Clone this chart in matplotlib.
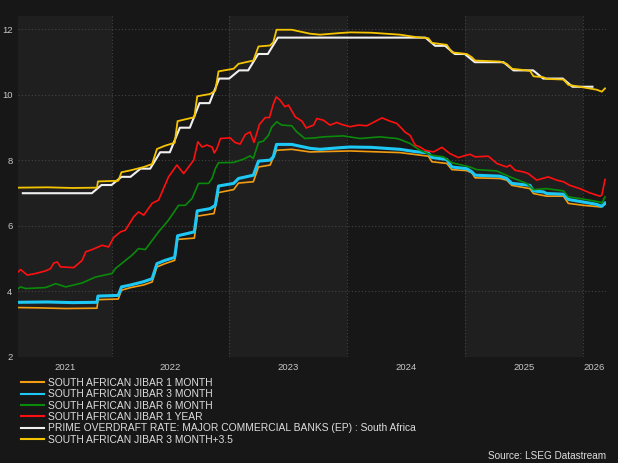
import pandas as pd
import matplotlib
matplotlib.use("Agg")
import matplotlib.pyplot as plt

plt.rcParams['font.family'] = ['Liberation Sans', 'DejaVu Sans']

# JIBAR 1 month (orange)
jibar1m_dates = ['2021-03-17', '2021-05-20', '2021-08-10', '2021-11-16', '2021-11-19',
                 '2022-01-21', '2022-01-31', '2022-03-01', '2022-04-10', '2022-05-06',
                 '2022-05-21', '2022-06-15', '2022-07-15', '2022-07-24', '2022-09-14',
                 '2022-09-23', '2022-11-14', '2022-11-28', '2023-01-14', '2023-01-29',
                 '2023-03-16', '2023-04-01', '2023-05-07', '2023-05-27', '2023-07-13',
                 '2023-09-08', '2024-01-10', '2024-06-13', '2024-09-09', '2024-09-20',
                 '2024-11-05', '2024-11-21', '2025-01-06', '2025-01-22', '2025-02-01',
                 '2025-04-19', '2025-05-10', '2025-05-26', '2025-07-21', '2025-08-01',
                 '2025-09-11', '2025-11-02', '2025-11-17', '2026-01-03', '2026-02-26',
                 '2026-03-11']
jibar1m = [3.51, 3.50, 3.48, 3.49, 3.75,
           3.77, 4.04, 4.12, 4.20, 4.29,
           4.75, 4.85, 4.95, 5.59, 5.63,
           6.30, 6.38, 7.02, 7.11, 7.31,
           7.35, 7.80, 7.86, 8.31, 8.34,
           8.26, 8.29, 8.24, 8.13, 7.96,
           7.91, 7.72, 7.69, 7.62, 7.47,
           7.45, 7.40, 7.24, 7.14, 6.99,
           6.91, 6.91, 6.69, 6.63, 6.58,
           6.66]

# JIBAR 3 month (cyan) and JIBAR 3 month + 3.5 (yellow), same dates
jibar3m_dates = ['2021-03-17', '2021-06-15', '2021-09-01', '2021-11-16', '2021-11-19',
                 '2022-01-21', '2022-01-31', '2022-03-01', '2022-04-10', '2022-05-06',
                 '2022-05-21', '2022-06-15', '2022-07-15', '2022-07-24', '2022-09-14',
                 '2022-09-23', '2022-11-02', '2022-11-18', '2022-11-28', '2023-01-14',
                 '2023-01-29', '2023-03-16', '2023-04-01', '2023-05-07', '2023-05-17',
                 '2023-05-27', '2023-07-13', '2023-09-08', '2023-10-09', '2023-12-10',
                 '2024-01-10', '2024-03-15', '2024-06-13', '2024-07-30', '2024-09-09',
                 '2024-09-20', '2024-11-05', '2024-11-21', '2025-01-06', '2025-01-22',
                 '2025-02-01', '2025-04-19', '2025-05-10', '2025-05-26', '2025-07-21',
                 '2025-08-01', '2025-09-01', '2025-09-11', '2025-11-02', '2025-11-17',
                 '2026-01-03', '2026-02-13', '2026-03-01', '2026-03-11']
jibar3m = [3.67, 3.68, 3.66, 3.67, 3.86,
           3.88, 4.14, 4.20, 4.30, 4.39,
           4.85, 4.95, 5.04, 5.70, 5.82,
           6.46, 6.53, 6.63, 7.22, 7.30,
           7.45, 7.55, 7.98, 8.01, 8.11,
           8.49, 8.49, 8.37, 8.34, 8.39,
           8.41, 8.40, 8.34, 8.27, 8.23,
           8.09, 8.03, 7.80, 7.75, 7.65,
           7.55, 7.52, 7.45, 7.30, 7.24,
           7.07, 7.04, 6.99, 6.97, 6.81,
           6.73, 6.66, 6.60, 6.70]
jibar3m_plus = [7.17, 7.18, 7.16, 7.17, 7.36,
                7.38, 7.64, 7.70, 7.80, 7.89,
                8.35, 8.45, 8.54, 9.20, 9.32,
                9.96, 10.03, 10.13, 10.72, 10.80,
                10.95, 11.05, 11.48, 11.51, 11.61,
                11.99, 11.99, 11.87, 11.84, 11.89,
                11.91, 11.90, 11.84, 11.77, 11.73,
                11.59, 11.53, 11.30, 11.25, 11.15,
                11.05, 11.02, 10.95, 10.80, 10.74,
                10.57, 10.54, 10.49, 10.47, 10.31,
                10.23, 10.16, 10.10, 10.20]

# JIBAR 6 month (green)
jibar6m_dates = ['2021-03-17', '2021-03-24', '2021-04-09', '2021-06-10', '2021-07-11',
                 '2021-08-11', '2021-10-01', '2021-11-11', '2022-01-02', '2022-01-12',
                 '2022-03-05', '2022-03-25', '2022-04-15', '2022-05-26', '2022-06-26',
                 '2022-07-27', '2022-08-17', '2022-09-07', '2022-09-27', '2022-10-28',
                 '2022-11-08', '2022-11-18', '2022-11-28', '2023-01-14', '2023-02-14',
                 '2023-03-06', '2023-03-16', '2023-04-01', '2023-04-16', '2023-05-02',
                 '2023-05-12', '2023-05-28', '2023-06-12', '2023-07-13', '2023-07-29',
                 '2023-08-23', '2023-09-23', '2023-10-19', '2023-12-20', '2024-02-10',
                 '2024-04-12', '2024-06-03', '2024-06-13', '2024-07-14', '2024-08-14',
                 '2024-09-20', '2024-10-26', '2024-11-21', '2025-01-16', '2025-02-06',
                 '2025-04-09', '2025-05-20', '2025-07-11', '2025-08-01', '2025-09-11',
                 '2025-11-02', '2025-11-17', '2026-01-03', '2026-02-23', '2026-03-01',
                 '2026-03-11']
jibar6m = [4.09, 4.14, 4.09, 4.12, 4.24,
           4.14, 4.26, 4.44, 4.55, 4.70,
           5.11, 5.31, 5.28, 5.82, 6.18,
           6.63, 6.63, 6.84, 7.30, 7.30,
           7.45, 7.75, 7.93, 7.94, 8.04,
           8.14, 8.06, 8.55, 8.59, 8.77,
           9.02, 9.18, 9.08, 9.06, 8.87,
           8.67, 8.69, 8.72, 8.75, 8.67,
           8.72, 8.67, 8.64, 8.52, 8.31,
           8.16, 8.11, 7.93, 7.80, 7.72,
           7.68, 7.50, 7.30, 7.11, 7.14,
           7.07, 6.89, 6.82, 6.73, 6.70,
           6.89]

# JIBAR 1 year (red)
jibar1y_dates = ['2021-03-17', '2021-03-24', '2021-04-14', '2021-05-10', '2021-06-10',
                 '2021-06-25', '2021-07-05', '2021-07-16', '2021-07-26', '2021-09-05',
                 '2021-10-01', '2021-10-12', '2021-11-01', '2021-12-02', '2021-12-22',
                 '2022-01-07', '2022-01-28', '2022-02-12', '2022-03-10', '2022-03-25',
                 '2022-04-10', '2022-05-06', '2022-05-26', '2022-06-26', '2022-07-22',
                 '2022-08-12', '2022-09-12', '2022-09-25', '2022-10-08', '2022-10-23',
                 '2022-11-08', '2022-11-15', '2022-11-23', '2022-12-04', '2023-01-03',
                 '2023-01-18', '2023-02-03', '2023-02-19', '2023-03-06', '2023-03-18',
                 '2023-04-04', '2023-04-22', '2023-05-05', '2023-05-16', '2023-05-26',
                 '2023-06-07', '2023-06-22', '2023-07-03', '2023-07-24', '2023-08-14',
                 '2023-08-27', '2023-09-19', '2023-09-29', '2023-10-19', '2023-11-09',
                 '2023-11-30', '2023-12-15', '2024-01-10', '2024-02-05', '2024-03-02',
                 '2024-03-22', '2024-04-18', '2024-05-13', '2024-06-03', '2024-06-18',
                 '2024-06-28', '2024-07-14', '2024-07-30', '2024-08-14', '2024-08-30',
                 '2024-09-25', '2024-10-21', '2024-11-15', '2024-12-11', '2025-01-16',
                 '2025-02-01', '2025-03-14', '2025-04-09', '2025-05-10', '2025-05-20',
                 '2025-06-05', '2025-07-01', '2025-07-16', '2025-08-11', '2025-09-16',
                 '2025-10-12', '2025-11-02', '2025-11-22', '2025-12-23', '2026-01-23',
                 '2026-02-23', '2026-03-01', '2026-03-11']
jibar1y = [4.60, 4.67, 4.50, 4.55, 4.63,
           4.70, 4.87, 4.90, 4.75, 4.73,
           4.95, 5.21, 5.28, 5.41, 5.36,
           5.65, 5.82, 5.87, 6.28, 6.43,
           6.33, 6.69, 6.79, 7.50, 7.86,
           7.60, 8.01, 8.57, 8.41, 8.47,
           8.41, 8.23, 8.36, 8.67, 8.69,
           8.55, 8.50, 8.79, 8.87, 8.55,
           9.10, 9.31, 9.31, 9.69, 9.94,
           9.84, 9.64, 9.69, 9.33, 9.20,
           8.99, 9.08, 9.28, 9.23, 9.08,
           9.16, 9.10, 9.03, 9.08, 9.06,
           9.16, 9.30, 9.20, 9.13, 8.98,
           8.87, 8.77, 8.47, 8.41, 8.31,
           8.26, 8.40, 8.21, 8.09, 8.19,
           8.11, 8.13, 7.91, 7.80, 7.86,
           7.70, 7.65, 7.60, 7.40, 7.50,
           7.40, 7.35, 7.24, 7.14, 7.01,
           6.91, 6.94, 7.42]

# Prime overdraft rate, month-end values Mar 2021 .. Jan 2026
prime = [7.0, 7.0, 7.0, 7.0, 7.0, 7.0, 7.0, 7.0, 7.25, 7.25,
         7.5, 7.5, 7.75, 7.75, 8.25, 8.25, 9.0, 9.0, 9.75, 9.75, 10.5, 10.5,
         10.75, 10.75, 11.25, 11.25, 11.75, 11.75, 11.75, 11.75, 11.75, 11.75, 11.75, 11.75,
         11.75, 11.75, 11.75, 11.75, 11.75, 11.75, 11.75, 11.75, 11.5, 11.5, 11.25, 11.25,
         11.0, 11.0, 11.0, 11.0, 10.75, 10.75, 10.75, 10.5, 10.5, 10.5, 10.25, 10.25,
         10.25]
prime_dates = pd.date_range('2021-03-31', '2026-01-31', freq='ME')

labels = ["SOUTH AFRICAN JIBAR 1 MONTH",
          "SOUTH AFRICAN JIBAR 3 MONTH",
          "SOUTH AFRICAN JIBAR 6 MONTH",
          "SOUTH AFRICAN JIBAR 1 YEAR",
          "PRIME OVERDRAFT RATE: MAJOR COMMERCIAL BANKS (EP) : South Africa",
          "SOUTH AFRICAN JIBAR 3 MONTH+3.5"]
colors = ['#f39c12', '#1ec8f5', '#0a8a0a', '#ff1010', '#f0f0f0', '#f5c400']

BG = '#171717'
BAND = '#1f1f1f'
GRID = '#444444'
TEXT = '#c8c8c8'

x_start = pd.Timestamp('2021-03-16')
x_end = pd.Timestamp('2026-03-14')

fig = plt.figure(figsize=(6.18, 4.63), dpi=100, facecolor=BG)
ax = fig.add_axes([18 / 618, 1 - 357 / 463, 588 / 618, 341 / 463])
ax.set_facecolor(BG)

# alternating year bands
for year in range(2021, 2027):
    if year % 2 == 1:
        ax.axvspan(max(pd.Timestamp(f'{year}-01-01'), x_start),
                   min(pd.Timestamp(f'{year + 1}-01-01'), x_end),
                   color=BAND, lw=0, zorder=0)

ax.plot(pd.to_datetime(jibar1m_dates), jibar1m, color=colors[0], lw=1.2, label=labels[0], zorder=3)
ax.plot(pd.to_datetime(jibar3m_dates), jibar3m, color=colors[1], lw=2.2, label=labels[1], zorder=3)
ax.plot(pd.to_datetime(jibar6m_dates), jibar6m, color=colors[2], lw=1.2, label=labels[2], zorder=3)
ax.plot(pd.to_datetime(jibar1y_dates), jibar1y, color=colors[3], lw=1.2, label=labels[3], zorder=3)
ax.plot(prime_dates, prime, color=colors[4], lw=1.5, label=labels[4], zorder=3)
ax.plot(pd.to_datetime(jibar3m_dates), jibar3m_plus, color=colors[5], lw=1.3, label=labels[5], zorder=3)

ax.set_xlim(x_start, x_end)
ax.set_ylim(2, 12.41)
ax.set_yticks([2, 4, 6, 8, 10, 12])

# grid at year boundaries, labels centred in the visible part of each year
bounds = [pd.Timestamp(f'{y}-01-01') for y in range(2022, 2027)]
ax.set_xticks(bounds, minor=True)
mids = []
for year in range(2021, 2027):
    a = max(pd.Timestamp(f'{year}-01-01'), x_start)
    b = min(pd.Timestamp(f'{year + 1}-01-01'), x_end)
    mids.append(a + (b - a) / 2)
ax.set_xticks(mids)
ax.set_xticklabels([str(y) for y in range(2021, 2027)])

ax.grid(axis='y', which='major', color=GRID, ls=(0, (1, 2)), lw=0.8, zorder=1)
ax.grid(axis='x', which='minor', color=GRID, ls=(0, (1, 2)), lw=0.8, zorder=1)
ax.tick_params(axis='both', which='both', length=0, colors=TEXT, labelsize=6.8)
ax.tick_params(axis='x', pad=4.5)
ax.tick_params(axis='y', pad=4)
for s in ax.spines.values():
    s.set_visible(False)

leg = fig.legend(loc='upper left', bbox_to_anchor=(21 / 618, 1 - 378 / 463),
                 frameon=False, fontsize=7.4, handlelength=2.2, handletextpad=0.45,
                 labelspacing=0.13, borderpad=0, borderaxespad=0)
for t in leg.get_texts():
    t.set_color('#dddddd')
for h in leg.get_lines():
    h.set_linewidth(1.5)

fig.text(606 / 618, 1 - 456 / 463, "Source: LSEG Datastream", ha='right', va='center',
         fontsize=7.2, color='#dddddd')

fig.savefig('out.png', dpi=100, facecolor=BG)
